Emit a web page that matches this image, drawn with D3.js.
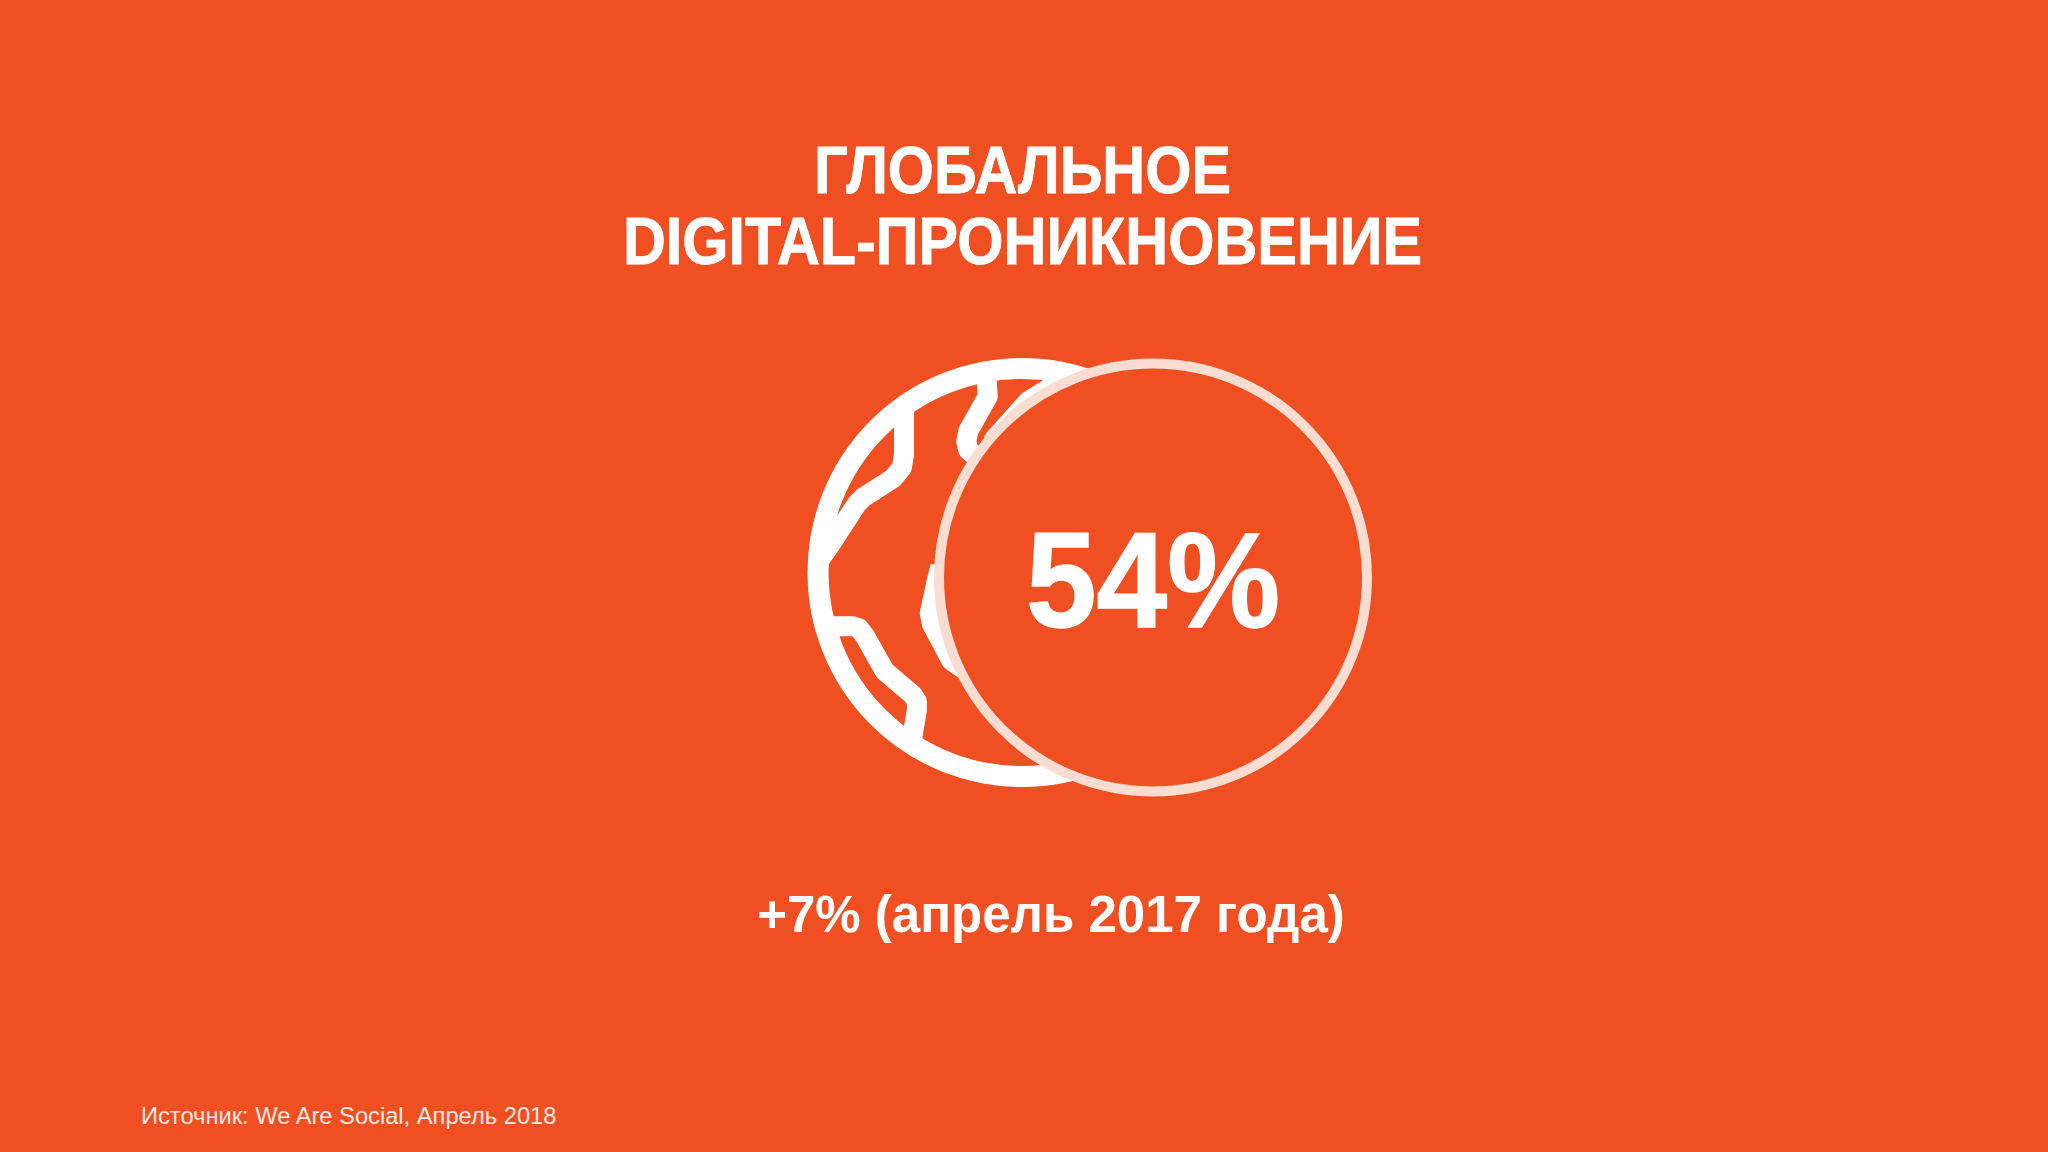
<!DOCTYPE html>
<html>
<head>
<meta charset="utf-8">
<script src="https://cdn.jsdelivr.net/npm/d3@7"></script>
<style>
html, body { margin: 0; padding: 0; background: #F04F22; }
svg { display: block; }
text { font-family: "Liberation Sans", Arial, sans-serif; }
</style>
</head>
<body>
<div id="chart"></div>
<script>
// тексты и значения со слайда
var titleLines = ['ГЛОБАЛЬНОЕ', 'DIGITAL-ПРОНИКНОВЕНИЕ'];
var mainValue = ['54%'];
var changeLabel = ['+7% (апрель 2017 года)'];
var sourceLabel = ['Источник: We Are Social, Апрель 2018'];

// контуры материков на значке, единицы: центр глобуса 0,0 радиус 100
var landLeft = [[-55, -100], [-55, -55], [-56, -49], [-60, -44], [-74, -35], [-77, -32], [-90, -12], [-100, 2]];
var landTop = [[-17, -100], [-16, -82], [-25, -66], [-26, -61], [-25, -57], [-20, -53], [-5, -45]];
var landTopRight = [[28, -98], [16, -88], [3, -80], [-13, -62], [-5, -45]];
var landMiddle = [[-38, -3], [-40, 5], [-43, 19], [-42, 24], [-33, 41], [-20, 50]];
var landBottom = [[-100, 25], [-79, 25], [-76, 26], [-73, 30], [-64, 46], [-51, 57], [-49, 60], [-49, 64], [-51, 76], [-52, 100]];
var lands = [landLeft, landTop, landTopRight, landMiddle, landBottom];

var width = 2048;
var height = 1152;
var bg = '#F04F22';

var svg = d3.select('#chart')
    .append('svg')
    .attr('width', width)
    .attr('height', height);

svg.append('rect')
    .attr('width', width)
    .attr('height', height)
    .attr('fill', bg);

// заголовок, шрифт в оригинале чуть уже
svg.selectAll('text.title')
    .data(titleLines).enter()
    .append('text')
    .attr('class', 'title')
    .attr('transform', function (d, i) { return 'translate(1022.5,' + (192.5 + i * 71) + ') scale(0.9,1)'; })
    .attr('text-anchor', 'middle')
    .attr('font-size', 66)
    .attr('font-weight', 700)
    .attr('fill', 'white')
    .attr('stroke', 'white')
    .attr('stroke-width', 0.8)
    .text(function (d) { return d; });

// глобус
var globeCx = 1022, globeCy = 572.5, globeR = 214.5;
var iconX = d3.scaleLinear().domain([-100, 100]).range([globeCx - globeR, globeCx + globeR]);
var iconY = d3.scaleLinear().domain([-100, 100]).range([globeCy - globeR, globeCy + globeR]);
var landLine = d3.line()
    .x(function (d) { return iconX(d[0]); })
    .y(function (d) { return iconY(d[1]); });

svg.append('clipPath')
    .attr('id', 'globeClip')
    .append('circle')
    .attr('cx', globeCx)
    .attr('cy', globeCy)
    .attr('r', globeR - 5);

svg.append('g')
    .attr('clip-path', 'url(#globeClip)')
    .selectAll('path')
    .data(lands).enter()
    .append('path')
    .attr('d', landLine)
    .attr('fill', 'none')
    .attr('stroke', 'white')
    .attr('stroke-width', 20)
    .attr('stroke-linejoin', 'round');

svg.append('circle')
    .attr('cx', globeCx)
    .attr('cy', globeCy)
    .attr('r', globeR - 10.5)
    .attr('fill', 'none')
    .attr('stroke', 'white')
    .attr('stroke-width', 21);

// кольцо со значением
svg.append('circle')
    .attr('cx', 1153)
    .attr('cy', 577.5)
    .attr('r', 214)
    .attr('fill', bg)
    .attr('stroke', '#FADCD0')
    .attr('stroke-width', 10);

svg.selectAll('text.value')
    .data(mainValue).enter()
    .append('text')
    .attr('class', 'value')
    .attr('transform', 'translate(1153,627) scale(0.94,1)')
    .attr('text-anchor', 'middle')
    .attr('font-size', 135)
    .attr('font-weight', 700)
    .attr('fill', 'white')
    .attr('stroke', 'white')
    .attr('stroke-width', 1.5)
    .text(function (d) { return d; });

svg.selectAll('text.change')
    .data(changeLabel).enter()
    .append('text')
    .attr('class', 'change')
    .attr('x', 1051)
    .attr('y', 932)
    .attr('text-anchor', 'middle')
    .attr('font-size', 51)
    .attr('font-weight', 700)
    .attr('fill', 'white')
    .text(function (d) { return d; });

svg.selectAll('text.source')
    .data(sourceLabel).enter()
    .append('text')
    .attr('class', 'source')
    .attr('x', 141)
    .attr('y', 1124)
    .attr('font-size', 23.7)
    .attr('fill', '#FDE9E1')
    .text(function (d) { return d; });
</script>
</body>
</html>
